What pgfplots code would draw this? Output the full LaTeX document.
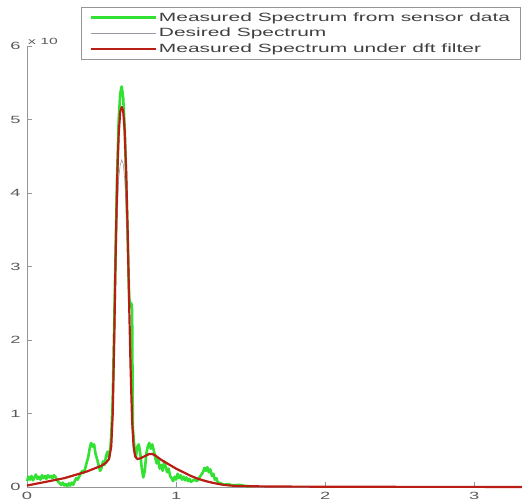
\documentclass[border=0pt]{standalone}
\usepackage{pgfplots}
\pgfplotsset{compat=1.18}
\usepackage{fontspec}
\setmainfont{Liberation Sans}[FakeStretch=1.75]
\definecolor{axgray}{RGB}{150,150,150}
\definecolor{lblgray}{RGB}{90,90,90}
\definecolor{mgreen}{RGB}{50,225,50}
\definecolor{mred}{RGB}{185,30,20}
\definecolor{dgray}{RGB}{150,150,165}
\begin{document}
\begin{tikzpicture}
\useasboundingbox (-27bp,-17bp) rectangle (495bp,487bp);
\begin{axis}[
  scale only axis, width=495bp, height=441bp,
  xmin=0, xmax=3.32, ymin=0, ymax=6,
  axis x line*=bottom, axis y line*=left,
  axis line style={axgray, line width=1pt},
  xtick={0,1,2,3}, ytick={0,1,2,3,4,5,6},
  tick align=inside, major tick length=5bp,
  tick style={axgray, line width=0.8pt},
  ticklabel style={font=\fontsize{10.5}{12}\selectfont, text=lblgray},
  /pgf/number format/assume math mode=true,
  xticklabel style={yshift=-2bp},
  yticklabel style={xshift=-3bp},
  legend style={at={(0.997,1.088)}, anchor=north east, draw=axgray, line width=0.8pt,
    font=\fontsize{12}{14}\selectfont, text=black!75, row sep=1.5bp,
    inner xsep=8bp, inner ysep=3bp},
  legend cell align=left,
  legend image code/.code={\draw[#1] (0bp,0bp) -- (65bp,0bp);},
  clip=false,
]
\addplot[mgreen, line width=2.6pt, line join=round] coordinates {
(0.00,0.08)(0.01,0.14)(0.02,0.10)(0.03,0.15)(0.04,0.09)(0.05,0.13)(0.06,0.17)(0.07,0.11)
(0.08,0.14)(0.09,0.10)(0.10,0.16)(0.11,0.12)(0.12,0.15)(0.13,0.11)(0.14,0.16)(0.15,0.13)
(0.16,0.15)(0.17,0.12)(0.18,0.16)(0.19,0.14)(0.20,0.10)(0.21,0.07)(0.22,0.05)(0.23,0.03)
(0.24,0.06)(0.25,0.02)(0.26,0.04)(0.27,0.01)(0.28,0.05)(0.29,0.02)(0.30,0.06)(0.31,0.03)
(0.32,0.08)(0.33,0.12)(0.34,0.10)(0.35,0.14)(0.36,0.18)(0.37,0.22)(0.38,0.19)(0.39,0.25)
(0.40,0.33)(0.41,0.40)(0.42,0.52)(0.43,0.60)(0.44,0.55)(0.45,0.58)(0.46,0.45)(0.47,0.38)
(0.48,0.30)(0.49,0.22)(0.50,0.26)(0.51,0.35)(0.52,0.30)(0.53,0.42)(0.54,0.48)(0.55,0.40)
(0.56,0.55)(0.565,0.7)(0.575,1.2)(0.585,2.2)(0.595,3.3)(0.605,4.3)(0.615,5.0)(0.625,5.35)
(0.635,5.45)(0.645,5.3)(0.655,4.9)(0.665,4.2)(0.675,3.4)(0.685,2.6)(0.692,2.45)(0.700,2.5)
(0.705,2.4)(0.71,0.8)(0.72,0.55)(0.73,0.40)(0.74,0.55)(0.75,0.58)(0.76,0.45)(0.77,0.25)
(0.78,0.13)(0.79,0.22)(0.80,0.45)(0.81,0.55)(0.82,0.60)(0.83,0.52)(0.84,0.58)(0.85,0.50)
(0.86,0.40)(0.87,0.32)(0.88,0.38)(0.89,0.25)(0.90,0.30)(0.91,0.22)(0.92,0.35)(0.93,0.28)
(0.94,0.20)(0.95,0.25)(0.96,0.15)(0.97,0.12)(0.98,0.08)(0.99,0.14)(1.00,0.10)(1.01,0.18)
(1.02,0.12)(1.03,0.16)(1.04,0.10)(1.05,0.14)(1.06,0.09)(1.07,0.13)(1.08,0.08)(1.09,0.11)
(1.10,0.07)(1.12,0.10)(1.14,0.08)(1.16,0.14)(1.18,0.20)(1.19,0.26)(1.20,0.22)(1.21,0.27)
(1.22,0.20)(1.23,0.24)(1.24,0.15)(1.25,0.18)(1.26,0.10)(1.27,0.12)(1.28,0.06)(1.30,0.05)
(1.32,0.03)(1.35,0.04)(1.38,0.02)(1.42,0.03)(1.46,0.015)(1.50,0.01)
};
\addlegendentry{Measured Spectrum from sensor data}
\addplot[dgray, line width=0.6pt] coordinates {
(0.00,0.02)(0.05,0.04)(0.10,0.06)(0.15,0.08)(0.20,0.10)(0.25,0.12)(0.30,0.15)(0.35,0.18)
(0.40,0.21)(0.45,0.25)(0.50,0.29)(0.53,0.33)(0.55,0.38)(0.565,0.55)(0.575,1.0)(0.585,1.9)
(0.595,2.9)(0.605,3.7)(0.615,4.2)(0.625,4.38)(0.635,4.45)(0.645,4.4)(0.655,4.2)(0.665,3.8)
(0.675,3.2)(0.685,2.4)(0.695,1.5)(0.705,0.85)(0.715,0.52)(0.725,0.41)(0.74,0.37)(0.76,0.38)
(0.78,0.40)(0.80,0.42)(0.82,0.44)(0.84,0.44)(0.86,0.42)(0.88,0.39)(0.90,0.36)(0.95,0.30)
(1.00,0.24)(1.05,0.19)(1.10,0.14)(1.15,0.10)(1.20,0.07)(1.25,0.05)(1.30,0.03)(1.35,0.02)
(1.40,0.014)(1.50,0.01)(1.70,0.006)(2.00,0.004)(2.50,0.002)(3.32,0.001)
};
\addlegendentry{Desired Spectrum}
\addplot[mred, line width=2.2pt, line join=round] coordinates {
(0.00,0.02)(0.05,0.04)(0.10,0.06)(0.15,0.08)(0.20,0.10)(0.25,0.12)(0.30,0.15)(0.35,0.18)
(0.40,0.21)(0.45,0.25)(0.50,0.29)(0.53,0.33)(0.55,0.38)(0.565,0.55)(0.575,1.0)(0.585,2.0)
(0.595,3.2)(0.605,4.2)(0.615,4.8)(0.625,5.1)(0.635,5.17)(0.645,5.12)(0.655,4.85)(0.665,4.3)
(0.675,3.5)(0.685,2.5)(0.695,1.6)(0.705,0.9)(0.715,0.55)(0.725,0.42)(0.74,0.38)(0.76,0.39)
(0.78,0.41)(0.80,0.43)(0.82,0.45)(0.84,0.45)(0.86,0.43)(0.88,0.40)(0.90,0.37)(0.95,0.31)
(1.00,0.25)(1.05,0.20)(1.10,0.15)(1.15,0.11)(1.20,0.08)(1.25,0.055)(1.30,0.035)(1.35,0.022)
(1.40,0.015)(1.50,0.01)(1.70,0.006)(2.00,0.004)(2.50,0.002)(3.32,0.001)
};
\addlegendentry{Measured Spectrum under dft filter}
\node[anchor=south west, font=\fontsize{9}{10}\selectfont, text=lblgray, inner sep=1bp]
  at (rel axis cs:0,1) {x 10};
\end{axis}
\end{tikzpicture}
\end{document}
